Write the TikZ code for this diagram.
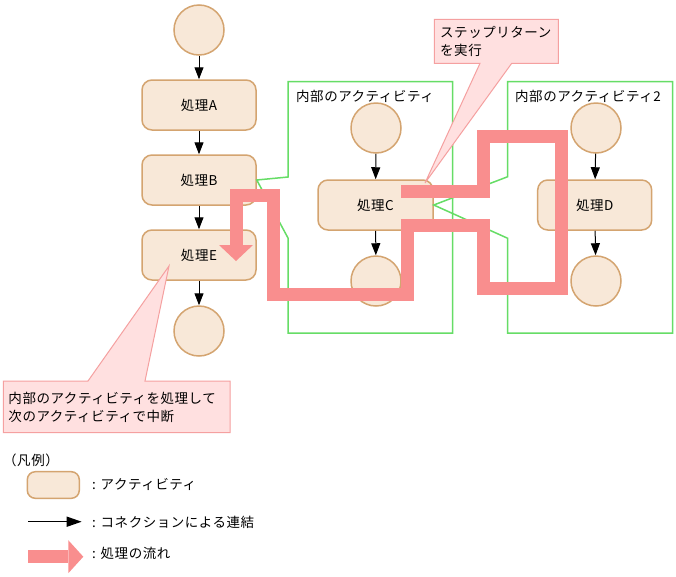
\documentclass[tikz,border=0pt]{standalone}
\usepackage{fontspec}
\setmainfont{Noto Sans CJK JP}[LetterSpace=4]
\usetikzlibrary{arrows.meta}
\definecolor{actfill}{HTML}{F8E8D8}
\definecolor{actdraw}{HTML}{D4A470}
\definecolor{flow}{HTML}{F98E8E}
\definecolor{grn}{HTML}{66DD66}
\definecolor{notefill}{HTML}{FFE0E0}
\definecolor{notedraw}{HTML}{F5A0A0}
\begin{document}
\begin{tikzpicture}[x=1pt,y=-1pt,
  act/.style={draw=actdraw,fill=actfill,line width=1.5pt,rounded corners=10pt,minimum width=114pt,minimum height=50pt,inner sep=0pt,font=\fontsize{13.5}{16}\selectfont},
  state/.style={circle,draw=actdraw,fill=actfill,line width=1.5pt,minimum size=50pt,inner sep=0pt},
  conn/.style={-{Triangle[width=9pt,length=12pt]},line width=1pt},
  flowline/.style={draw=flow,line width=13pt,line join=miter},
  region/.style={draw=grn,line width=1.5pt},
  note/.style={draw=notedraw,fill=notefill,line width=1pt},
  lbl/.style={anchor=west,inner sep=0pt,font=\fontsize{13.5}{18}\selectfont,align=left},
]
\useasboundingbox[fill=white] (0,0) rectangle (676,576);
% nodes of the main flow
\node[state] (s0) at (199,30) {};
\node[act] (A) at (199,105) {処理A};
\node[act] (B) at (199,180) {処理B};
\node[act] (E) at (199,255) {処理E};
\node[state] (e0) at (199,331) {};
% inner activity 1
\node[act,minimum width=115pt] (C) at (375.5,205) {処理C};
\node[state] (c0) at (376,128) {};
\node[state] (c1) at (376,281) {};
% inner activity 2
\node[act] (D) at (594.7,205) {処理D};
\node[state] (d0) at (596,128) {};
\node[state] (d1) at (596,281) {};
% region outlines
\draw[region] (288,81.7) -- (452.7,81.7) -- (452.7,333) -- (288,333) -- (288,238) -- (B.east) -- (288,177) -- cycle;
\draw[region] (507.7,81.7) -- (672.7,81.7) -- (672.7,333) -- (507.7,333) -- (507.7,238.3) -- (C.east) -- (507.7,176.7) -- cycle;
\node[lbl] (r1) at (296,96.5) {内部のアクティビティ};
\node[lbl] (r2) at (515,96.5) {内部のアクティビティ2};
% connectors
\draw[conn] (s0) -- (A);
\draw[conn] (A) -- (B);
\draw[conn] (B) -- (E);
\draw[conn] (E) -- (e0);
\draw[conn] (c0) -- (C);
\draw[conn] (C) -- (c1);
\draw[conn] (d0) -- (D);
\draw[conn] (D) -- (d1);
% processing flow
\coordinate (fs) at (401,191.7);
\coordinate (fe) at (236,261);
\draw[flowline,-{Triangle[width=34pt,length=16pt,line width=0pt]}] (fs) -- (483,191.7) -- (483,136) -- (561.3,136) -- (561.3,288.3) -- (483,288.3) -- (483,225.5) -- (407,225.5) -- (407,294) -- (273.3,294) -- (273.3,195.5) -- (236,195.5) -- (fe);
% callouts
\draw[note] (434.3,19.3) -- (558.3,19.3) -- (558.3,63.3) -- (511.7,63.3) -- (425,183) -- (480,63.3) -- (434.3,63.3) -- cycle;
\node[lbl] (n1) at (440,41.2) {ステップリターン\\を実行};
\draw[note] (3.3,381) -- (88,381) -- (169,266) -- (145,381) -- (230,381) -- (230,432.7) -- (3.3,432.7) -- cycle;
\node[lbl] (n2) at (8.3,407.5) {内部のアクティビティを処理して\\次のアクティビティで中断};
% legend
\node[lbl] (lg) at (3,460) {（凡例）};
\node[act,minimum width=52pt,minimum height=26.6pt,rounded corners=8pt] (la) at (53.3,485) {};
\node[lbl] (lt1) at (92,484) {: アクティビティ};
\coordinate (lc1) at (28,521.7);
\coordinate (lc2) at (81.7,521.7);
\draw[-{Triangle[width=10pt,length=15pt]},line width=1.5pt] (lc1) -- (lc2);
\node[lbl] (lt2) at (92,522) {: コネクションによる連結};
\coordinate (lf1) at (28,556.7);
\coordinate (lf2) at (83.3,556.7);
\draw[draw=flow,line width=13pt,-{Triangle[width=33pt,length=15pt,line width=0pt]}] (lf1) -- (lf2);
\node[lbl] (lt3) at (92,553) {: 処理の流れ};
\end{tikzpicture}
\end{document}
